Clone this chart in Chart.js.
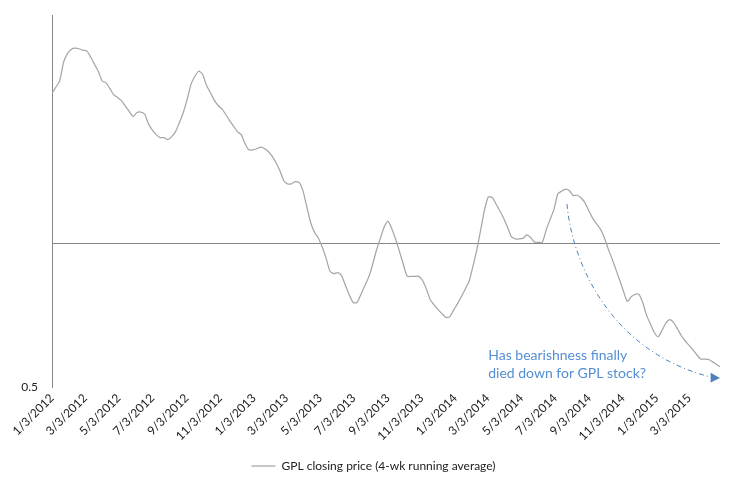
<!DOCTYPE html>
<html>
<head>
<meta charset="utf-8">
<script src="https://cdn.jsdelivr.net/npm/chart.js@4.4.0/dist/chart.umd.min.js"></script>
<style>
  html, body { margin: 0; padding: 0; background: #fff; }
</style>
</head>
<body>
<canvas id="chartGPL" width="747" height="488"></canvas>
<script>
// --- Datos: promedio móvil de 4 semanas, una lectura por semana desde 1/3/2012 ---
const fechaInicio = '1/3/2012';
const precios2012 = [2.056, 2.120, 2.185, 2.39, 2.49, 2.545, 2.557, 2.55, 2.532, 2.524,
    2.45, 2.367, 2.287, 2.183, 2.164, 2.104, 2.042, 2.017, 1.983, 1.935,
    1.885, 1.840, 1.876, 1.88, 1.862, 1.774, 1.723, 1.686, 1.662, 1.662,
    1.646, 1.670, 1.711, 1.787, 1.876, 1.998, 2.148, 2.233, 2.288, 2.255,
    2.138, 2.066, 1.993, 1.940, 1.908, 1.858, 1.804, 1.757, 1.711, 1.686,
    1.614, 1.567, 1.567];
const precios2013 = [1.575, 1.587, 1.577, 1.555, 1.52, 1.474, 1.418, 1.352, 1.330, 1.330,
    1.344, 1.340, 1.286, 1.19, 1.103, 1.053, 1.024, 0.980, 0.929, 0.873,
    0.863, 0.867, 0.855, 0.815, 0.779, 0.751, 0.751, 0.781, 0.814, 0.848,
    0.900, 0.965, 1.021, 1.079, 1.112, 1.072, 1.019, 0.96, 0.902, 0.852,
    0.852, 0.852, 0.852, 0.834, 0.800, 0.760, 0.742, 0.726, 0.712, 0.699,
    0.701, 0.724];
const precios2014 = [0.746, 0.772, 0.801, 0.831, 0.893, 0.967, 1.063, 1.172, 1.249, 1.246,
    1.207, 1.167, 1.126, 1.078, 1.030, 1.021, 1.020, 1.024, 1.040, 1.026,
    1.004, 1.004, 1.004, 1.066, 1.121, 1.176, 1.268, 1.284, 1.297, 1.287,
    1.257, 1.259, 1.244, 1.215, 1.170, 1.128, 1.098, 1.071, 1.029, 0.975,
    0.929, 0.882, 0.837, 0.793, 0.755, 0.772, 0.781, 0.781, 0.750, 0.706,
    0.677, 0.650];
const precios2015 = [0.637, 0.657, 0.681, 0.692, 0.682, 0.661, 0.640, 0.624, 0.611, 0.598,
    0.584, 0.572, 0.572, 0.571, 0.565, 0.558, 0.551];

const etiquetasX = ['1/3/2012', '3/3/2012', '5/3/2012', '7/3/2012', '9/3/2012', '11/3/2012',
    '1/3/2013', '3/3/2013', '5/3/2013', '7/3/2013', '9/3/2013', '11/3/2013',
    '1/3/2014', '3/3/2014', '5/3/2014', '7/3/2014', '9/3/2014', '11/3/2014',
    '1/3/2015', '3/3/2015'];
const nombreSerie = 'GPL closing price (4-wk running average)';
const notaTexto = ['Has bearishness finally', 'died down for GPL stock?'];

// --- Helpers de fechas (días desde el inicio) ---
const aUTC = s => { const [m, d, y] = s.split('/').map(Number); return Date.UTC(y, m - 1, d); };
const DIA = 86400000;
const t0 = aUTC(fechaInicio);
const diasTicks = etiquetasX.map(s => Math.round((aUTC(s) - t0) / DIA));

const precios = [...precios2012, ...precios2013, ...precios2014, ...precios2015];
const puntos = precios.map((v, i) => ({ x: i * 7, y: v }));
const ultimoDia = (precios.length - 1) * 7;

const fuente = 'Lato, "Open Sans", sans-serif';
const gris = '#868686';

// --- Nota con flecha punteada (posiciones relativas al área del gráfico) ---
const notaBajista = {
    id: 'notaBajista',
    afterDraw(chart) {
        const { ctx, chartArea: a } = chart;
        const px = f => a.left + f * (a.right - a.left);
        const py = f => a.top + f * (a.bottom - a.top);
        ctx.save();
        ctx.strokeStyle = '#4F81BD';
        ctx.fillStyle = '#4F81BD';
        ctx.lineWidth = 1;
        ctx.setLineDash([5, 3, 1, 3]);
        ctx.beginPath();
        ctx.moveTo(px(0.771), py(0.508));
        ctx.bezierCurveTo(px(0.778), py(0.662), px(0.835), py(0.905), px(0.986), py(0.973));
        ctx.stroke();
        ctx.setLineDash([]);
        ctx.beginPath();
        ctx.moveTo(px(1.0), py(0.976));
        ctx.lineTo(px(0.986), py(0.962));
        ctx.lineTo(px(0.986), py(0.988));
        ctx.closePath();
        ctx.fill();
        ctx.font = '14px ' + fuente;
        ctx.textBaseline = 'middle';
        ctx.fillStyle = '#558ED5';
        ctx.fillText(notaTexto[0], px(0.653), py(0.916));
        ctx.fillText(notaTexto[1], px(0.653), py(0.965));
        ctx.restore();
    }
};

new Chart(document.getElementById('chartGPL'), {
    type: 'line',
    data: {
        datasets: [{
            label: nombreSerie,
            data: puntos,
            borderColor: '#A6A6A6',
            borderWidth: 1.25,
            pointRadius: 0,
            tension: 0.2,
            fill: false
        }]
    },
    options: {
        responsive: false,
        animation: false,
        layout: { padding: { top: 15, right: 0, left: 0, bottom: 6 } },
        scales: {
            x: {
                type: 'linear',
                min: 0,
                max: ultimoDia,
                afterBuildTicks: s => { s.ticks = diasTicks.map(v => ({ value: v })); },
                afterFit: s => { s.height = 65; },
                grid: { display: false, drawTicks: false },
                border: { display: false },
                ticks: {
                    autoSkip: false,
                    minRotation: 45,
                    maxRotation: 45,
                    padding: 4,
                    color: '#222',
                    font: { family: fuente, size: 12 },
                    callback: v => etiquetasX[diasTicks.indexOf(v)] || ''
                }
            },
            y: {
                type: 'logarithmic',
                min: 0.5,
                max: 3,
                afterBuildTicks: s => { s.ticks = [{ value: 0.5 }, { value: 1 }]; },
                afterFit: s => { s.width = 52; s.paddingTop = 0; s.paddingBottom = 0; },
                grid: {
                    drawTicks: false,
                    color: c => (c.tick && c.tick.value === 1) ? gris : 'rgba(0,0,0,0)',
                    lineWidth: 1
                },
                border: { display: true, color: gris },
                ticks: {
                    padding: 14,
                    color: '#222',
                    font: { family: fuente, size: 12 },
                    callback: v => (v === 0.5 ? '0.5' : '')
                }
            },
            // eje vacío a la derecha: solo reserva margen para que la leyenda quede centrada
            margenDer: {
                type: 'linear',
                position: 'right',
                min: 0,
                max: 1,
                afterFit: s => { s.width = 27; s.paddingTop = 0; s.paddingBottom = 0; },
                grid: { display: false, drawTicks: false },
                border: { display: false },
                ticks: { display: false }
            }
        },
        plugins: {
            legend: {
                display: true,
                position: 'bottom',
                labels: {
                    usePointStyle: true,
                    pointStyle: 'line',
                    pointStyleWidth: 24,
                    color: '#222',
                    font: { family: fuente, size: 12 },
                    padding: 8
                }
            },
            title: { display: false },
            tooltip: { enabled: false }
        }
    },
    plugins: [notaBajista]
});
</script>
</body>
</html>
